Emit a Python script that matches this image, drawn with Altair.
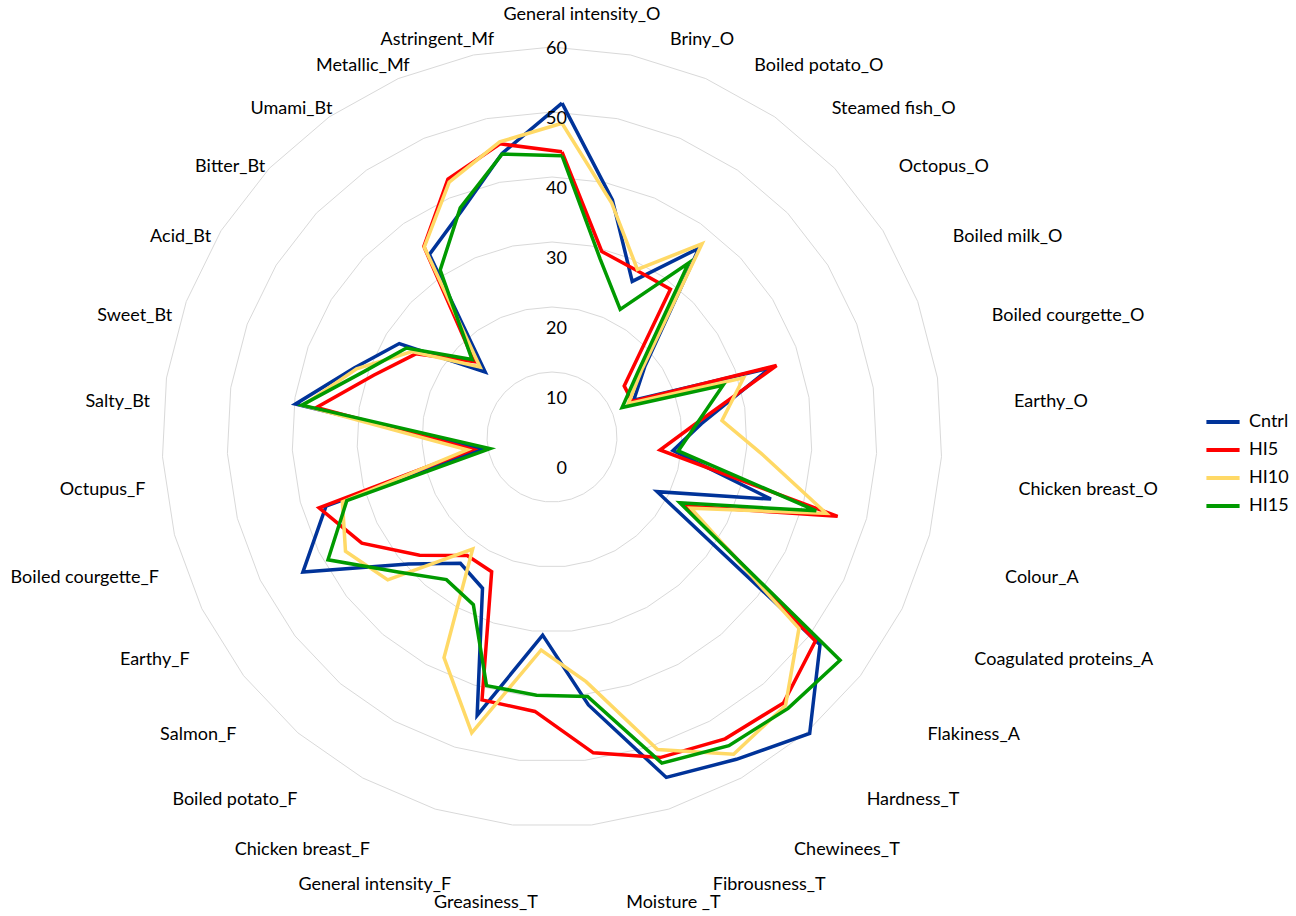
import altair as alt
import pandas as pd

# ---------------- data ----------------
categories = [
    "General intensity_O", "Briny_O", "Boiled potato_O", "Steamed fish_O", "Octopus_O",
    "Boiled milk_O", "Boiled courgette_O", "Earthy_O", "Chicken breast_O", "Colour_A",
    "Coagulated proteins_A", "Flakiness_A", "Hardness_T", "Chewinees_T", "Fibrousness_T",
    "Moisture _T", "Greasiness_T", "General intensity_F", "Chicken breast_F", "Boiled potato_F",
    "Salmon_F", "Earthy_F", "Boiled courgette_F", "Octupus_F", "Salty_Bt",
    "Sweet_Bt", "Acid_Bt", "Bitter_Bt", "Umami_Bt", "Metallic_Mf", "Astringent_Mf",
]
cntrl = [52.6, 38.5, 27.4, 36.9, 17.6, 13.0, 34.2, 21.7, 17.1, 33.2, 16.3, 50.2, 58.5, 55.3, 53.6, 40.2,
         29.4, 43.6, 25.2, 24.0, 29.9, 44.4, 37.5, 12.3, 41.5, 34.1, 29.5, 16.3, 35.7, 39.2, 45.8]
hi5 = [45.1, 30.4, 29.2, 29.2, 13.2, 12.7, 35.2, 20.6, 15.1, 43.8, 21.3, 49.3, 52.3, 51.7, 50.4, 47.6,
       41.2, 41.1, 22.3, 22.4, 27.7, 34.3, 38.6, 13.7, 38.2, 30.9, 26.5, 18.6, 37.2, 44.5, 47.3]
hi10 = [49.5, 38.0, 29.4, 37.7, 17.0, 12.0, 29.8, 24.9, 31.0, 42.0, 22.1, 46.1, 52.8, 54.4, 49.1, 36.6,
        31.7, 46.4, 37.4, 21.1, 33.9, 37.1, 34.9, 14.6, 40.3, 33.7, 27.2, 17.4, 37.1, 44.0, 47.6]
hi15 = [44.5, 29.2, 22.7, 34.1, 16.0, 10.9, 26.4, 20.9, 17.9, 40.4, 20.2, 54.1, 53.4, 52.9, 51.3, 38.9,
        38.7, 38.8, 28.1, 27.3, 31.9, 40.1, 34.2, 11.1, 40.5, 32.5, 28.2, 19.1, 32.8, 39.7, 45.7]
series_names = ["Cntrl", "HI5", "HI10", "HI15"]
series_colors = ["#003399", "#FF0000", "#FFD966", "#009A00"]
ring_values = [10, 20, 30, 40, 50, 60]
axis_labels = [0, 10, 20, 30, 40, 50, 60]

# ---------------- layout constants ----------------
W, H = 1296, 916
PX = 6.5            # pixels per unit
CX, CY = 562, 445   # centre of the plot in pixels
N = len(categories)
XMIN, XMAX = -CX / PX, (W - CX) / PX
YMIN, YMAX = -(H - CY) / PX, CY / PX
RING_DX, RING_DY = -10 / PX, 8 / PX
LABEL_R = 437 / PX
FONT = "Lato"
FS = 18

xs = alt.Scale(domain=[XMIN, XMAX], nice=False, zero=False)
ys = alt.Scale(domain=[YMIN, YMAX], nice=False, zero=False)
ang = f"2*PI*datum.idx/{N}"

# series table (closed polygons)
rows = []
for name, vals in zip(series_names, [cntrl, hi5, hi10, hi15]):
    for k in range(N + 1):
        rows.append({"series": name, "k": k, "idx": k % N, "value": vals[k % N]})
df = pd.DataFrame(rows)

ring_rows = [{"ring": r, "k": k, "idx": k % N} for r in ring_values for k in range(N + 1)]
df_ring = pd.DataFrame(ring_rows)

df_cat = pd.DataFrame({"idx": list(range(N)), "label": categories})
df_ax = pd.DataFrame({"v": axis_labels})

rings = alt.Chart(df_ring).transform_calculate(
    rx=f"datum.ring*sin({ang}) + {RING_DX}",
    ry=f"datum.ring*cos({ang}) + {RING_DY}",
).mark_line(color="#D9D9D9", strokeWidth=1).encode(
    x=alt.X("rx:Q", scale=xs, axis=None),
    y=alt.Y("ry:Q", scale=ys, axis=None),
    detail="ring:N",
    order="k:Q",
)

lines = alt.Chart(df).transform_calculate(
    px=f"datum.value*sin({ang})",
    py=f"datum.value*cos({ang})",
).mark_line(strokeWidth=3.5, strokeJoin="miter").encode(
    x=alt.X("px:Q", scale=xs, axis=None),
    y=alt.Y("py:Q", scale=ys, axis=None),
    color=alt.Color(
        "series:N",
        scale=alt.Scale(domain=series_names, range=series_colors),
        legend=alt.Legend(
            title=None, orient="none", legendX=1204, legendY=403,
            symbolType="stroke", symbolSize=1100, symbolStrokeWidth=4,
            labelFont=FONT, labelFontSize=FS, labelColor="#000000",
            labelOffset=7, rowPadding=0, padding=0,
        ),
        sort=series_names,
    ),
    detail="series:N",
    order="k:Q",
)

cat_base = alt.Chart(df_cat).transform_calculate(
    lx=f"{LABEL_R}*sin({ang})",
    ly=f"{LABEL_R}*cos({ang})",
    s=f"sin({ang})",
)
txt_kw = dict(font=FONT, fontSize=FS, color="#000000", baseline="middle")
enc = dict(x=alt.X("lx:Q", scale=xs, axis=None), y=alt.Y("ly:Q", scale=ys, axis=None), text="label:N")
cat_right = cat_base.transform_filter("datum.s > 0.01").mark_text(align="left", dx=20, dy=23, **txt_kw).encode(**enc)
cat_left = cat_base.transform_filter("datum.s < -0.01").mark_text(align="right", dx=20, dy=23, **txt_kw).encode(**enc)
cat_top = cat_base.transform_filter("abs(datum.s) <= 0.01").mark_text(align="center", dx=20, dy=7, **txt_kw).encode(**enc)

ax_labels = alt.Chart(df_ax).transform_calculate(
    ax="0",
    ay=f"(datum.v*7 - 24)/{PX}",
).mark_text(align="right", dx=5, **txt_kw).encode(
    x=alt.X("ax:Q", scale=xs, axis=None),
    y=alt.Y("ay:Q", scale=ys, axis=None),
    text="v:Q",
)

chart = alt.layer(rings, lines, cat_right, cat_left, cat_top, ax_labels).properties(
    width=W, height=H,
    autosize=alt.AutoSizeParams(type="none"),
    padding=0,
    background="white",
).configure_view(stroke=None)

chart.save("out.html", embed_options={"renderer": "svg", "actions": False})
